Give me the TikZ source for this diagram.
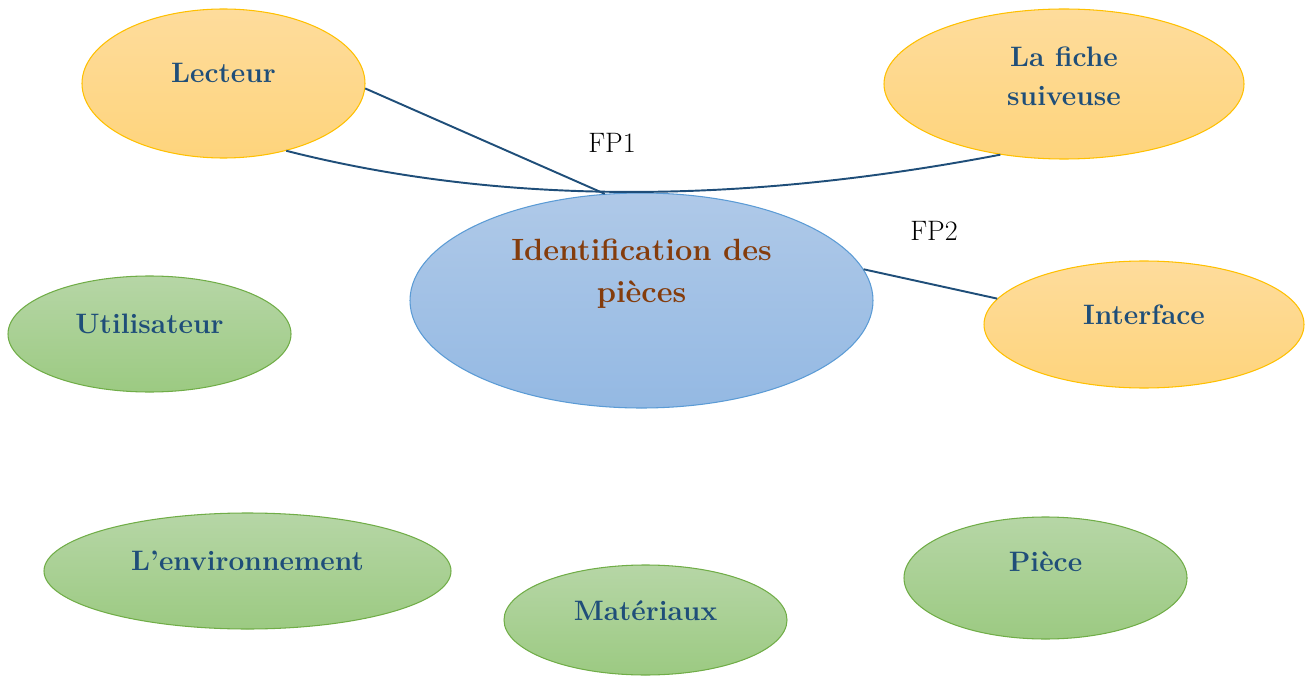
\documentclass[tikz,border=0pt]{standalone}
\usepackage{tikz}
\usetikzlibrary{shapes.geometric}
\definecolor{fcblue}{RGB}{31,78,121}
\definecolor{fcbrown}{RGB}{132,60,12}
\definecolor{fcorange}{RGB}{255,192,0}
\definecolor{fcorangetop}{RGB}{254,220,156}
\definecolor{fcorangebot}{RGB}{254,212,124}
\definecolor{fcgreen}{RGB}{112,173,71}
\definecolor{fcgreentop}{RGB}{182,214,166}
\definecolor{fcgreenbot}{RGB}{156,202,130}
\definecolor{fcbluebd}{RGB}{91,155,213}
\definecolor{fcbluetop}{RGB}{175,201,232}
\definecolor{fcbluebot}{RGB}{148,185,227}

\begin{document}
\begin{tikzpicture}[
  bub/.style={ellipse,draw,line width=0.6pt,inner sep=0pt},
  orangebub/.style={bub,draw=fcorange,top color=fcorangetop,bottom color=fcorangebot},
  greenbub/.style={bub,draw=fcgreen,top color=fcgreentop,bottom color=fcgreenbot},
  bluebub/.style={bub,draw=fcbluebd,top color=fcbluetop,bottom color=fcbluebot},
  txt/.style={font=\fontsize{16}{22}\selectfont\bfseries,text=fcblue,align=center},
  fp/.style={font=\fontsize{16}{19}\selectfont},
  link/.style={draw=fcblue,line width=1.1pt}]
  \useasboundingbox (0,0) rectangle (26.24,13.5);

  % the ellipses
  \node[orangebub,minimum width=5.66cm,minimum height=2.98cm] (lect) at (4.47,11.83) {};
  \node[orangebub,minimum width=7.2cm,minimum height=3.0cm] (fiche) at (21.28,11.82) {};
  \node[bluebub,minimum width=9.26cm,minimum height=4.3cm] (ident) at (12.83,7.49) {};
  \node[orangebub,minimum width=6.4cm,minimum height=2.54cm] (inter) at (22.88,7.01) {};
  \node[greenbub,minimum width=5.66cm,minimum height=2.32cm] (util) at (2.99,6.82) {};
  \node[greenbub,minimum width=8.14cm,minimum height=2.32cm] (env) at (4.95,2.08) {};
  \node[greenbub,minimum width=5.66cm,minimum height=2.2cm] (mat) at (12.91,1.1) {};
  \node[greenbub,minimum width=5.66cm,minimum height=2.44cm] (piece) at (20.91,1.94) {};

  % the texts
  \node[txt] (lectT) at (4.47,12.04) {Lecteur};
  \node[txt] (ficheT) at (21.28,11.98) {La fiche\\suiveuse};
  \node[txt,text=fcbrown,font=\fontsize{17.5}{24}\selectfont\bfseries] (identT) at (12.83,8.02) {Identification des\\pièces};
  \node[txt] (interT) at (22.88,7.2) {Interface};
  \node[txt] (utilT) at (2.99,7.02) {Utilisateur};
  \node[txt] (envT) at (4.95,2.28) {L’environnement};
  \node[txt] (matT) at (12.91,1.28) {Matériaux};
  \node[txt] (pieceT) at (20.91,2.26) {Pièce};

  % the links
  \draw[link] (lect.-2) -- (ident.109);
  \draw[link] (lect.-47) .. controls (10.2,9.35) and (15,9.45) .. (fiche.228);
  \draw[link] (ident.8.5) -- (inter.170);
  \node[fp] (fp1) at (12.24,10.64) {FP1};
  \node[fp] (fp2) at (18.68,8.88) {FP2};
\end{tikzpicture}
\end{document}
